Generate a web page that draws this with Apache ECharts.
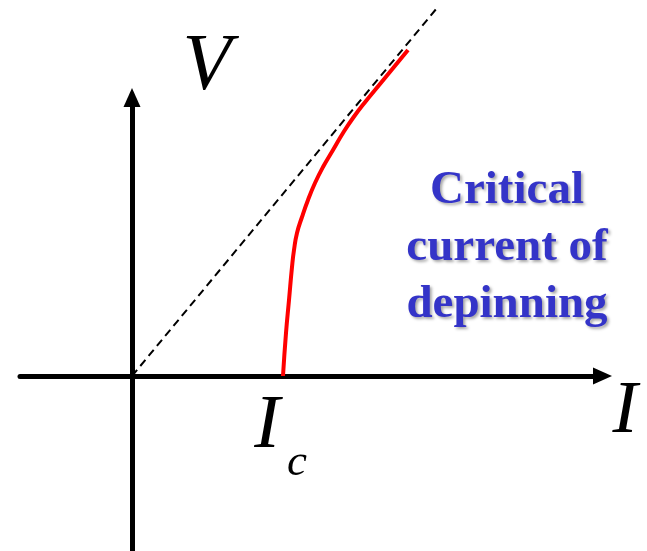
<!DOCTYPE html>
<html>
<head>
<meta charset="utf-8">
<title>Critical current of depinning</title>
<script src="https://cdn.jsdelivr.net/npm/echarts@6/dist/echarts.min.js"></script>
<style>
  html, body { margin: 0; padding: 0; background: #ffffff; }
  #chart { width: 647px; height: 551px; }
</style>
</head>
<body>
<div id="chart"></div>
<script>
// Depinning critical current: V-I curve against the ohmic line V = R*I
const criticalCurrent = 1.51;

// Ohmic (free flux-flow) reference line through the origin
const ohmicI = [0, 3.05];
const ohmicV = [0, 3.68];

// V(I) curve that starts at the critical current
const curveI = [1.51, 1.54, 1.57, 1.60, 1.62, 1.65, 1.70, 1.76, 1.83, 1.91, 2.01, 2.11, 2.21, 2.34, 2.48, 2.62, 2.76];
const curveV = [0.00, 0.43, 0.76, 1.09, 1.26, 1.43, 1.59, 1.76, 1.93, 2.09, 2.26, 2.43, 2.58, 2.75, 2.92, 3.09, 3.26];

// Axis extents (data units)
const iRange = [-1.12, 4.705];
const vRange = [-1.75, 2.785];

const pairs = (xs, ys) => xs.map((x, k) => [x, ys[k]]);

const chart = echarts.init(document.getElementById('chart'), null, { renderer: 'canvas' });

const axisCommon = {
  type: 'value',
  splitLine: { show: false },
  axisTick: { show: false },
  axisLabel: { show: false },
  axisLine: {
    show: true,
    onZero: true,
    symbol: ['none', 'triangle'],
    symbolSize: [17, 19],
    lineStyle: { color: '#000000', width: 5 }
  }
};

chart.setOption({
  backgroundColor: '#ffffff',
  animation: false,
  grid: { left: 20, right: 44.5, top: 97.5, bottom: 0, containLabel: false },
  xAxis: Object.assign({}, axisCommon, { min: iRange[0], max: iRange[1] }),
  yAxis: Object.assign({}, axisCommon, { min: vRange[0], max: vRange[1] }),
  series: [
    {
      name: 'ohmic',
      type: 'line',
      data: pairs(ohmicI, ohmicV),
      symbol: 'none',
      clip: false,
      lineStyle: { color: '#000000', width: 2, type: [8, 5] },
      z: 3
    },
    {
      name: 'V(I)',
      type: 'line',
      data: pairs(curveI, curveV),
      symbol: 'none',
      smooth: 0.5,
      clip: false,
      lineStyle: { color: '#ff0000', width: 4, cap: 'butt' },
      z: 4
    }
  ],
  graphic: [
    {
      type: 'text', x: 207, y: 68, z: 10,
      style: {
        text: 'V', fill: '#000000', align: 'center', verticalAlign: 'middle',
        font: 'italic 80px "Liberation Serif", "Times New Roman", serif'
      }
    },
    {
      type: 'text', x: 625, y: 412, z: 10,
      style: {
        text: 'I', fill: '#000000', align: 'center', verticalAlign: 'middle',
        font: 'italic 75px "Liberation Serif", "Times New Roman", serif'
      }
    },
    {
      type: 'text', x: 267, y: 427, z: 10,
      style: {
        text: 'I', fill: '#000000', align: 'center', verticalAlign: 'middle',
        font: 'italic 77px "Liberation Serif", "Times New Roman", serif'
      }
    },
    {
      type: 'text', x: 297, y: 463, z: 10,
      style: {
        text: 'c', fill: '#000000', align: 'center', verticalAlign: 'middle',
        font: 'italic 45px "Liberation Serif", "Times New Roman", serif'
      }
    },
    {
      type: 'text', x: 507, y: 248, z: 10,
      style: {
        text: 'Critical\ncurrent of\ndepinning',
        fill: '#3434c8', align: 'center', verticalAlign: 'middle', lineHeight: 57,
        font: 'bold 47px "Liberation Serif", "Times New Roman", serif',
        textShadowColor: 'rgba(0,0,0,0.35)', textShadowBlur: 3,
        textShadowOffsetX: 2, textShadowOffsetY: 2
      }
    }
  ]
});
</script>
</body>
</html>
